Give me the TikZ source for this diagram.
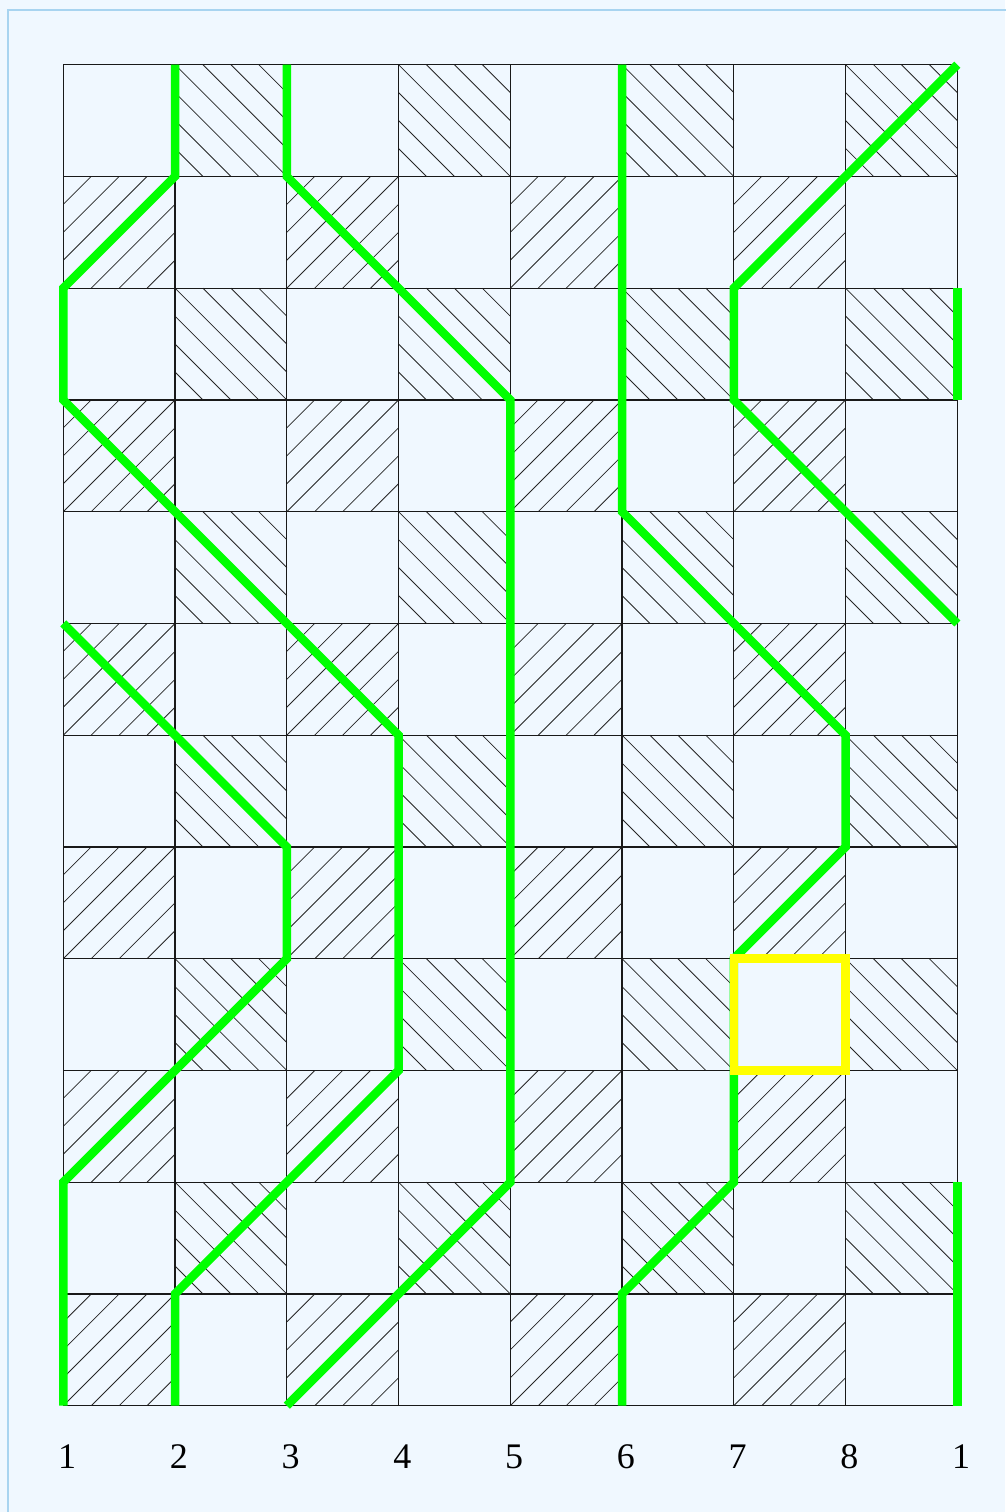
\documentclass[tikz,border=0pt]{standalone}
\usepackage{fontspec}
\setmainfont{Liberation Serif}
\definecolor{bgcol}{HTML}{F0F8FF}
\definecolor{bordcol}{HTML}{A8D4F0}
\definecolor{strandcol}{HTML}{00FF00}
\definecolor{hlcol}{HTML}{FFFF00}
\tikzset{
  hatchline/.style={line width=0.8pt, black!85},
  gridline/.style={line width=1.2pt, black!90},
  strand/.style={line width=8.5pt, strandcol},
  hlbox/.style={line width=8.5pt, hlcol},
  lbl/.style={font=\fontsize{36}{42}\selectfont, anchor=base, inner sep=0pt}
}
\begin{document}
\begin{tikzpicture}[x=111.75pt,y=111.75pt]
\useasboundingbox (-63.3pt,-106.3pt) rectangle (941.7pt,1405.7pt);
\fill[bgcol] (-63.3pt,-106.3pt) rectangle (941.7pt,1405.7pt);
\draw[bordcol, line width=1.5pt] (-55.3pt,-130pt) -- (-55.3pt,1395.7pt) -- (980pt,1395.7pt);
% hatching ///
\foreach \rr in {0,2,...,10} \foreach \cc in {0,2,4,6} {
  \draw[hatchline] (\cc,\rr) -- (\cc+1,\rr+1);
  \foreach \ss in {0.25,0.5,0.75} {
    \draw[hatchline] (\cc,\rr+\ss) -- (\cc+1-\ss,\rr+1);
    \draw[hatchline] (\cc+\ss,\rr) -- (\cc+1,\rr+1-\ss);
  }
}
% hatching \\\
\foreach \rr in {1,3,...,11} \foreach \cc in {1,3,5,7} {
  \draw[hatchline] (\cc,\rr+1) -- (\cc+1,\rr);
  \foreach \ss in {0.25,0.5,0.75} {
    \draw[hatchline] (\cc,\rr+1-\ss) -- (\cc+1-\ss,\rr);
    \draw[hatchline] (\cc+\ss,\rr+1) -- (\cc+1,\rr+\ss);
  }
}
% grid
\foreach \cc in {0,...,8} \draw[gridline] (\cc,0) -- (\cc,12);
\foreach \rr in {0,...,12} \draw[gridline] (0,\rr) -- (8,\rr);
% strands
\draw[strand] (1,12) -- (1,11) -- (0,10) -- (0,9) -- (3,6) -- (3,3) -- (1,1) -- (1,0);
\draw[strand] (2,12) -- (2,11) -- (4,9) -- (4,2) -- (2,0);
\draw[strand] (5,12) -- (5,8) -- (7,6) -- (7,5) -- (6,4) -- (6,2) -- (5,1) -- (5,0);
\draw[strand] (8,12) -- (6,10) -- (6,9) -- (8,7);
\draw[strand] (8,10) -- (8,9);
\draw[strand] (0,7) -- (2,5) -- (2,4) -- (0,2) -- (0,0);
\draw[strand] (8,2) -- (8,0);
% highlighted cell
\draw[hlbox] (6,3) rectangle (7,4);
% labels
\foreach \k/\l in {0/1,1/2,2/3,3/4,4/5,5/6,6/7,7/8,8/1}
  \node[lbl] (lab\k) at (\k,0) [xshift=3.7pt, yshift=-62.6pt] {\l};
\end{tikzpicture}
\end{document}
